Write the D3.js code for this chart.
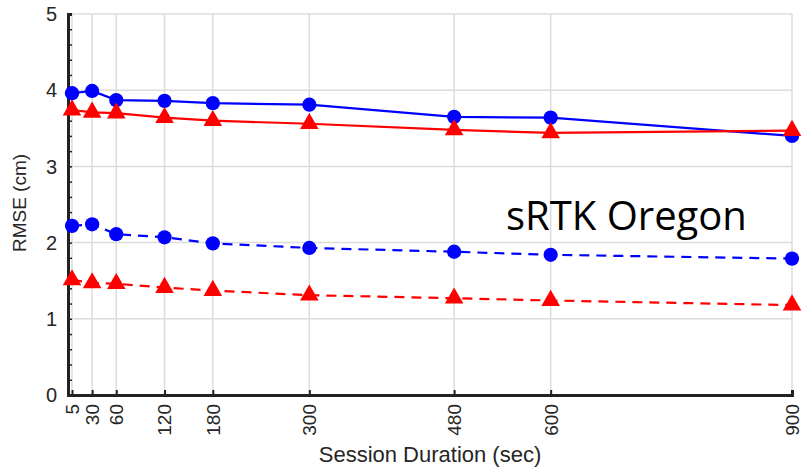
<!DOCTYPE html>
<html><head><meta charset="utf-8">
<script src="https://cdn.jsdelivr.net/npm/d3@7"></script>
<style>body{margin:0;background:#fff}svg{display:block}</style>
</head><body><svg id="c" width="803" height="469"></svg>
<script>
const durations = [5, 30, 60, 120, 180, 300, 480, 600, 900];
const xTickLabels = ["5","30","60","120","180","300","480","600","900"];
const yTicks = [0,1,2,3,4,5];
const blueSolid = [3.96, 3.99, 3.87, 3.86, 3.83, 3.81, 3.65, 3.64, 3.40];
const redSolid  = [3.74, 3.71, 3.70, 3.64, 3.60, 3.56, 3.48, 3.44, 3.47];
const blueDashed= [2.22, 2.24, 2.11, 2.07, 1.99, 1.93, 1.88, 1.84, 1.79];
const redDashed = [1.51, 1.47, 1.46, 1.41, 1.37, 1.31, 1.27, 1.24, 1.18];
const series = [
  {vals: blueSolid, color:"#0000ff", dash:null, marker:"circle"},
  {vals: redSolid, color:"#ff0000", dash:null, marker:"triangle"},
  {vals: blueDashed, color:"#0000ff", dash:"10,7", marker:"circle"},
  {vals: redDashed, color:"#ff0000", dash:"10,7", marker:"triangle"}
];
const svg = d3.select("#c");
const x = d3.scaleLinear().domain([0,900]).range([68,792]);
const y = d3.scaleLinear().domain([0,5]).range([395,14]);
const font = "'Liberation Sans', Arial, sans-serif";
// grid
svg.append("g").selectAll("line").data(durations).join("line")
  .attr("x1",d=>x(d)).attr("x2",d=>x(d)).attr("y1",y(0)).attr("y2",y(5))
  .attr("stroke","#dcdcdc").attr("stroke-width",1.5);
svg.append("g").selectAll("line").data(yTicks.slice(1)).join("line")
  .attr("x1",x(0)).attr("x2",x(900)).attr("y1",d=>y(d)).attr("y2",d=>y(d))
  .attr("stroke","#dcdcdc").attr("stroke-width",1.5);
// axes
const yAxis = svg.append("g").attr("transform",`translate(${x(0)},0)`)
  .call(d3.axisRight(y).tickValues(d3.range(0,5.01,0.2)).tickSize(4).tickFormat(""));
yAxis.select(".domain").attr("stroke","#222").attr("stroke-width",3);
yAxis.selectAll(".tick line").attr("stroke","#222").attr("stroke-width",1.5);
svg.append("g").selectAll("text").data(yTicks).join("text")
  .attr("x",57).attr("y",d=>y(d)).attr("dy","0.36em").attr("text-anchor","end")
  .attr("font-family",font).attr("font-size",20).attr("fill","#262626").text(d=>d);
const xAxis = svg.append("g").attr("transform",`translate(0,${y(0)})`)
  .call(d3.axisTop(x).tickValues(durations).tickSize(5).tickFormat(""));
xAxis.select(".domain").attr("stroke","#222").attr("stroke-width",3);
xAxis.selectAll(".tick line").attr("stroke","#222").attr("stroke-width",2);
svg.append("g").selectAll("text").data(durations).join("text")
  .attr("transform",(d,i)=>`translate(${x(d)},404) rotate(-90)`)
  .attr("text-anchor","end").attr("dy","0.36em")
  .attr("font-family",font).attr("font-size",19).attr("fill","#262626")
  .text((d,i)=>xTickLabels[i]);
svg.append("text").attr("x",430).attr("y",462).attr("text-anchor","middle")
  .attr("font-family",font).attr("font-size",22).attr("fill","#262626").text("Session Duration (sec)");
svg.append("text").attr("transform","translate(26,203) rotate(-90)").attr("text-anchor","middle")
  .attr("font-family",font).attr("font-size",19).attr("fill","#262626").text("RMSE (cm)");
// lines
const line = d3.line().x((d,i)=>x(durations[i])).y(d=>y(d));
series.forEach(s=>{
  svg.append("path").datum(s.vals).attr("d",line).attr("fill","none")
    .attr("stroke",s.color).attr("stroke-width",2.2).attr("stroke-dasharray",s.dash);
  const sym = d3.symbol().type(s.marker==="circle"?d3.symbolCircle:d3.symbolTriangle)
    .size(s.marker==="circle"?160:150);
  svg.append("g").selectAll("path").data(s.vals).join("path")
    .attr("transform",(d,i)=>`translate(${x(durations[i])},${y(d)})`)
    .attr("d",sym).attr("fill",s.color);
});
svg.append("text").attr("x",506).attr("y",230)
  .attr("font-family","'Open Sans', Lato, sans-serif").attr("font-size",40).attr("fill","#000").text("sRTK Oregon");
</script></body></html>
